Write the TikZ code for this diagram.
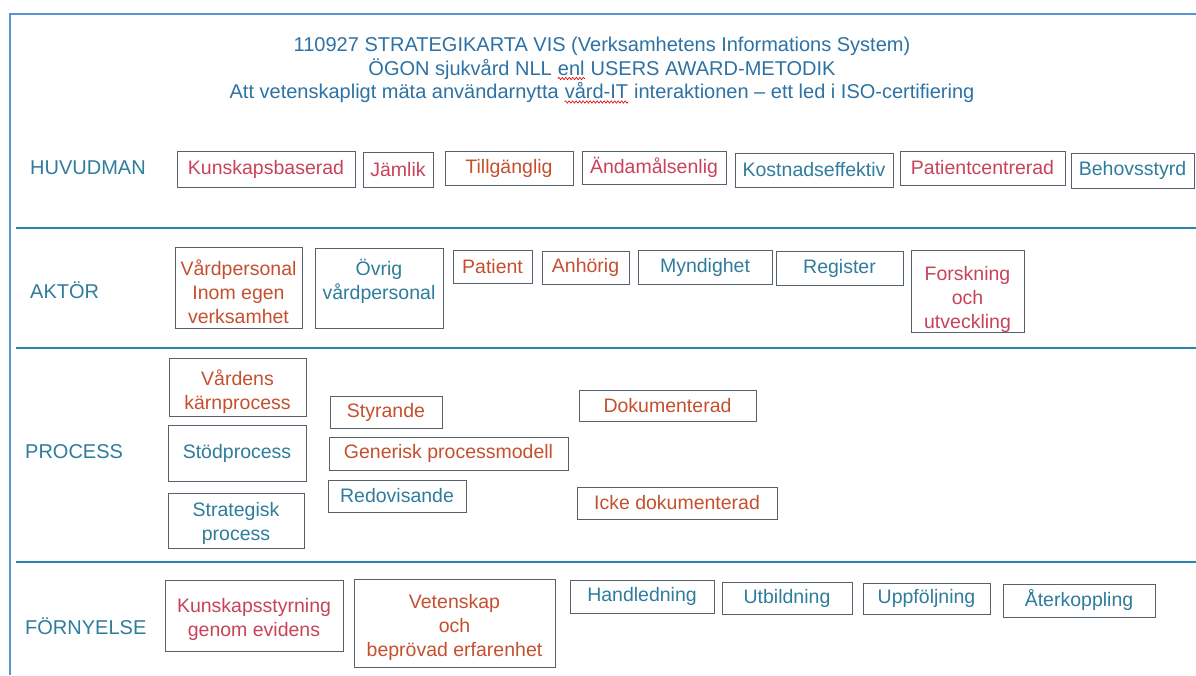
\documentclass[tikz,border=0pt]{standalone}
\usepackage{fontspec}
\setmainfont{Liberation Sans}
\usetikzlibrary{decorations.pathmorphing}
\definecolor{tealtxt}{HTML}{2F7C9C}
\definecolor{titleblue}{HTML}{2D72A4}
\definecolor{pinkred}{HTML}{C8435A}
\definecolor{orangered}{HTML}{C5502E}
\definecolor{boxgray}{HTML}{56616B}
\definecolor{sepblue}{HTML}{2A84AE}
\definecolor{frameblue}{HTML}{5A93D8}
\newcommand\bxfont{\fontsize{19.5}{24}\selectfont}
\newcommand\lblfont{\fontsize{20}{24}\selectfont}
\newcommand\ttlfont{\fontsize{20}{23.5}\selectfont}
\newcommand\dn[1]{\rule{0pt}{#1pt}}
\newcommand\wavyword[2]{\tikz[baseline=(#1.base)]{\node[inner sep=0pt,text=titleblue] (#1) {#2};
  \draw[squig] ([yshift=-3pt]#1.base west) -- ([yshift=-3pt]#1.base east);}}
\begin{document}
\begin{tikzpicture}[x=1pt,y=-1pt,
  box/.style={draw=boxgray,line width=1pt,inner sep=0pt,align=center,font=\bxfont},
  tl/.style={text=tealtxt},
  pr/.style={text=pinkred},
  orr/.style={text=orangered},
  rowlabel/.style={anchor=west,inner sep=0pt,font=\lblfont,text=tealtxt},
  sep/.style={draw=sepblue,line width=2.6pt},
  frame/.style={draw=frameblue,line width=2pt},
  squig/.style={draw=red!85!black,line width=0.6pt,decorate,decoration={snake,amplitude=1.2pt,segment length=3.5pt}}]
\useasboundingbox (0,0) rectangle (1196,675);
\fill[white] (0,0) rectangle (1196,675);
% frame
\draw[frame] (10,675) -- (10,14) -- (1196,14);
% title
\node[align=center,font=\ttlfont,text=titleblue,inner sep=0pt] (title) at (602,70.5)
  {110927 STRATEGIKARTA VIS (Verksamhetens Informations System)\\
   ÖGON sjukvård NLL \wavyword{wenl}{enl} USERS AWARD-METODIK\\
   Att vetenskapligt mäta användarnytta \wavyword{wvard}{vård-IT} interaktionen – ett led i ISO-certifiering};
% separators
\draw[sep] (16,228) -- (1196,228);
\draw[sep] (16,348) -- (1196,348);
\draw[sep] (16,562) -- (1196,562);
% HUVUDMAN row
\node[rowlabel] (huv) at (30,168) {HUVUDMAN};
\node[box,pr,minimum width=178,minimum height=36] (kb) at (266,169) {Kunskapsbaserad};
\node[box,pr,minimum width=70,minimum height=35] (jl) at (398,169.5) {Jämlik};
\node[box,orr,minimum width=128,minimum height=34] (tg) at (509,168) {Tillgänglig};
\node[box,pr,minimum width=144,minimum height=33] (am) at (654,167.5) {Ändamålsenlig};
\node[box,tl,minimum width=158,minimum height=34] (ke) at (814,170) {Kostnadseffektiv};
\node[box,pr,minimum width=165,minimum height=34] (pc) at (982.5,168) {Patientcentrerad};
\node[box,tl,minimum width=123,minimum height=35] (bs) at (1132.5,170.5) {Behovsstyrd};
% AKTÖR row
\node[rowlabel] (akt) at (30,290) {AKTÖR};
\node[box,orr,minimum width=127,minimum height=81] (vp) at (238.5,287.5) {\dn{24}Vårdpersonal\\Inom egen\\verksamhet};
\node[box,tl,minimum width=128,minimum height=80] (ov) at (379,288) {\dn{22}Övrig\\vårdpersonal\\\mbox{}};
\node[box,orr,minimum width=79,minimum height=33] (pt) at (492.5,266.5) {Patient};
\node[box,orr,minimum width=87,minimum height=33] (ah) at (585.5,267.5) {Anhörig};
\node[box,tl,minimum width=134,minimum height=34] (my) at (705,267) {Myndighet};
\node[box,tl,minimum width=127,minimum height=34] (rg) at (839.5,268) {Register};
\node[box,pr,minimum width=113,minimum height=79] (fu) at (967.5,291.5) {\dn{30}Forskning\\och\\utveckling};
% PROCESS row
\node[rowlabel] (proc) at (25,452) {PROCESS};
\node[box,orr,minimum width=137,minimum height=58] (vk) at (237.5,387) {\dn{26}Vårdens\\kärnprocess};
\node[box,tl,minimum width=138,minimum height=56] (sp) at (237,453) {Stödprocess};
\node[box,tl,minimum width=136,minimum height=55] (sg) at (236,520.5) {\dn{20}Strategisk\\process};
\node[box,orr,minimum width=112,minimum height=32] (st) at (386,412) {Styrande};
\node[box,orr,minimum width=239,minimum height=33] (gp) at (448.5,453.5) {Generisk processmodell};
\node[box,tl,minimum width=138,minimum height=32] (rd) at (397,496) {Redovisande};
\node[box,orr,minimum width=177,minimum height=31] (dk) at (667.5,405.5) {Dokumenterad};
\node[box,orr,minimum width=200,minimum height=32] (ik) at (677,503) {Icke dokumenterad};
% FÖRNYELSE row
\node[rowlabel] (forn) at (25,626) {FÖRNYELSE};
\node[box,pr,minimum width=178,minimum height=71] (ks) at (254,615.5) {\dn{22}Kunskapsstyrning\\genom evidens};
\node[box,orr,minimum width=201,minimum height=88] (vb) at (454.5,623) {\dn{24}Vetenskap\\och\\beprövad erfarenhet};
\node[box,tl,minimum width=144,minimum height=33] (hl) at (642,596.5) {Handledning};
\node[box,tl,minimum width=130,minimum height=32] (ub) at (787,598) {Utbildning};
\node[box,tl,minimum width=127,minimum height=31] (uf) at (926.5,598.5) {Uppföljning};
\node[box,tl,minimum width=152,minimum height=33] (ak) at (1079,600.5) {Återkoppling};
\end{tikzpicture}
\end{document}
